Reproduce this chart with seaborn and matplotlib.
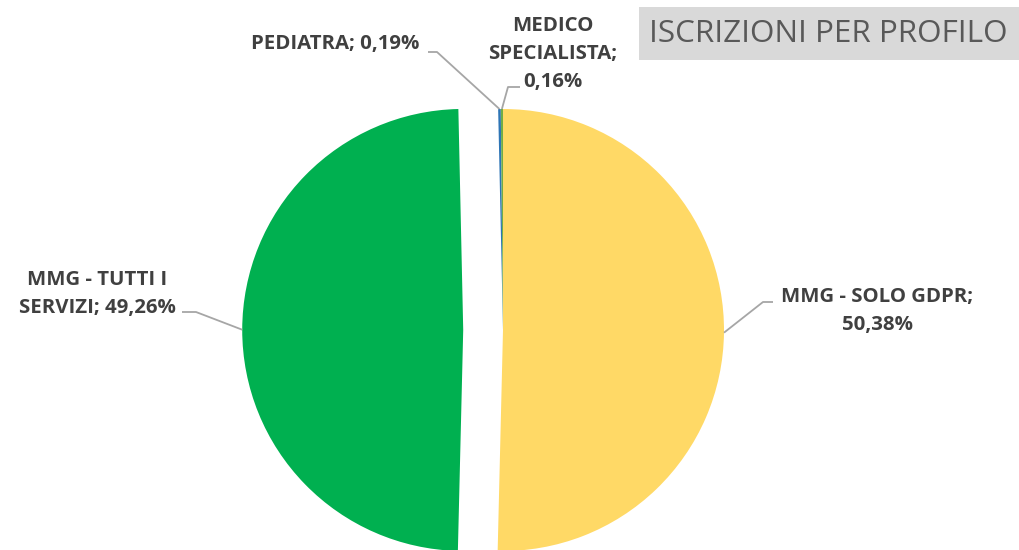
import numpy as np
import matplotlib.pyplot as plt
from matplotlib.patches import Rectangle
import seaborn as sns

# Data
profiles = ["MMG - SOLO GDPR", "MMG - TUTTI I\nSERVIZI", "PEDIATRA", "MEDICO\nSPECIALISTA"]
shares = [50.38, 49.26, 0.19, 0.16]
share_labels = ["50,38%", "49,26%", "0,19%", "0,16%"]
colors = ["#FFD966", "#00B050", "#2E75B6", "#70AD47"]
explode = [0, 0.18, 0, 0]

sns.set_theme(style="white")
plt.rcParams["font.family"] = ["Open Sans", "DejaVu Sans"]

W, H = 1019, 550
cx, cy, R = 503, 330, 221  # pie centre / radius in pixels


def px(x, y):
    # pixel position -> data coordinates (radius 1 == R pixels)
    return (x - cx) / R, (cy - y) / R


fig = plt.figure(figsize=(W / 100, H / 100), dpi=100)
ax = fig.add_axes([0, 0, 1, 1])
wedges, _ = ax.pie(shares, colors=colors, explode=explode, startangle=90,
                   counterclock=False, radius=1,
                   wedgeprops=dict(linewidth=0))
ax.set_xlim(-cx / R, (W - cx) / R)
ax.set_ylim(-(H - cy) / R, cy / R)
ax.set_aspect("equal")
ax.axis("off")

txt_kw = dict(fontsize=14.7, fontweight="bold", color="#404040", linespacing=1.55)
line_kw = dict(color="#A6A6A6", lw=1.3, solid_capstyle="butt")


def anchor(i):
    w = wedges[i]
    mid = np.deg2rad((w.theta1 + w.theta2) / 2)
    ox, oy = w.center
    return ox + np.cos(mid), oy + np.sin(mid)


def leader(i, pts):
    a = anchor(i)
    xs = [px(*p)[0] for p in pts] + [a[0]]
    ys = [px(*p)[1] for p in pts] + [a[1]]
    ax.plot(xs, ys, **line_kw)


# MMG - SOLO GDPR
ax.text(*px(877, 311), f"{profiles[0]};\n{share_labels[0]}", ha="center", va="center", **txt_kw)
leader(0, [(773, 302), (763, 302)])

# MMG - TUTTI I SERVIZI
ax.text(*px(97, 294), f"{profiles[1]}; {share_labels[1]}", ha="center", va="center", **txt_kw)
leader(1, [(182, 312), (196, 312)])

# PEDIATRA
ax.text(*px(419, 44), f"{profiles[2]}; {share_labels[2]}", ha="right", va="center", **txt_kw)
leader(2, [(428, 52), (437, 52)])

# MEDICO SPECIALISTA
ax.text(*px(553, 54), f"{profiles[3]};\n{share_labels[3]}", ha="center", va="center", **txt_kw)
leader(3, [(520, 87), (508, 87)])

# Title box
fig.patches.append(Rectangle((639 / W, 1 - 60 / H), (W - 639) / W, 53 / H,
                             transform=fig.transFigure, facecolor="#D9D9D9",
                             edgecolor="none", zorder=0))
fig.text(828 / W, 1 - 34 / H, "ISCRIZIONI PER PROFILO", ha="center", va="center",
         fontsize=22.6, color="#595959")

fig.savefig("out.png", dpi=100)
